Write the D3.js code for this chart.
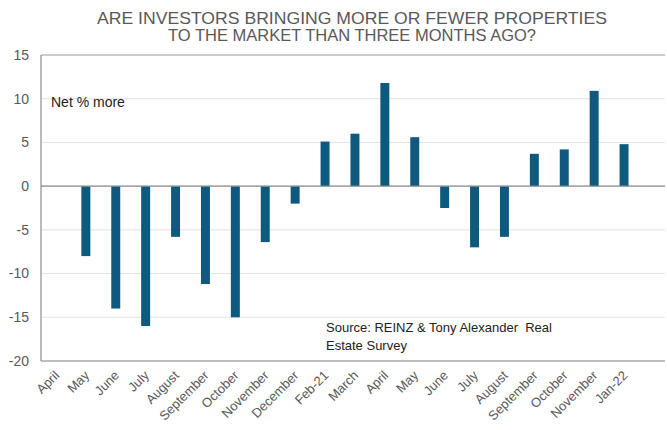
<!DOCTYPE html>
<html><head><meta charset="utf-8">
<script src="https://cdn.jsdelivr.net/npm/d3@7"></script>
<style>body{margin:0;background:#fff}svg{display:block}</style>
</head><body>
<svg id="c" width="667" height="430"></svg>
<script>
const categories = ["April","May","June","July","August","September","October","November","December","Feb-21","March","April ","May ","June ","July ","August ","September ","October ","November ","Jan-22"];
const values = [null,-8,-14,-16,-5.8,-11.2,-15,-6.4,-2,5.1,6,11.8,5.6,-2.5,-7,-5.8,3.7,4.2,10.9,4.8];
const yTicks = [15,10,5,0,-5,-10,-15,-20];
const titleLines = ["ARE INVESTORS BRINGING MORE OR FEWER PROPERTIES","TO THE MARKET THAN THREE MONTHS AGO?"];
const unitLabel = "Net % more";
const sourceLines = ["Source: REINZ & Tony Alexander\u00a0 Real","Estate Survey"];

const svg = d3.select("#c");
const L = 41, T = 55, B = 361, R = 665;
const bandW = 29.9;
const x = d3.scaleBand().domain(categories).range([L, L + bandW*categories.length]).paddingInner(0.7).paddingOuter(0.35);
const y = d3.scaleLinear().domain([-20,15]).range([B, T]);
const font = "Liberation Sans, Arial, sans-serif";

// gridlines
svg.append("g").selectAll("line").data(yTicks).join("line")
  .attr("x1", L).attr("x2", R).attr("y1", d=>y(d)).attr("y2", d=>y(d))
  .attr("stroke", d => (d===15) ? "#9a9a9a" : "#e3e3e3").attr("stroke-width",1);

// bars
svg.append("g").selectAll("rect").data(categories.map((c,i)=>({c,v:values[i]})).filter(d=>d.v!==null)).join("rect")
  .attr("x", d=>x(d.c)).attr("width", x.bandwidth())
  .attr("y", d=>y(Math.max(0,d.v))).attr("height", d=>Math.abs(y(d.v)-y(0)))
  .attr("fill","#0e5a7e");

// zero line
svg.append("line").attr("x1",L).attr("x2",R).attr("y1",y(0)).attr("y2",y(0)).attr("stroke","#8c8c8c").attr("stroke-width",1.2);
// bottom axis line
svg.append("line").attr("x1",L).attr("x2",R).attr("y1",B).attr("y2",B).attr("stroke","#8c8c8c").attr("stroke-width",1.2);
// left axis
svg.append("line").attr("x1",L).attr("x2",L).attr("y1",T).attr("y2",B).attr("stroke","#8c8c8c").attr("stroke-width",1.2);

// y tick labels
svg.append("g").selectAll("text").data(yTicks).join("text")
  .attr("x", 29).attr("y", d=>y(d)).attr("dy","0.35em").attr("text-anchor","end")
  .attr("font-family",font).attr("font-size",14).attr("fill","#595959").text(d=>d);

// x labels
svg.append("g").selectAll("text").data(categories).join("text")
  .attr("transform", d=>`translate(${x(d)+x.bandwidth()/2+1},${B+12}) rotate(-45)`)
  .attr("text-anchor","end").attr("dy","0.35em")
  .attr("font-family",font).attr("font-size",13).attr("fill","#595959").text(d=>d.trim());

// title
svg.append("g").selectAll("text").data(titleLines).join("text")
  .attr("x", 352).attr("y",(d,i)=>23.5+i*17.5).attr("text-anchor","middle")
  .attr("font-family",font).attr("font-size",17).attr("fill","#595959")
  .attr("textLength",(d,i)=> i===0 ? 510 : 368).attr("lengthAdjust","spacingAndGlyphs").text(d=>d);

svg.append("text").attr("x",51).attr("y",107).attr("font-family",font).attr("font-size",14).attr("fill","#222").text(unitLabel);

svg.append("g").selectAll("text").data(sourceLines).join("text")
  .attr("x",326).attr("y",(d,i)=>332+i*18).attr("font-family",font).attr("font-size",13).attr("fill","#222").text(d=>d);
</script>
</body></html>
